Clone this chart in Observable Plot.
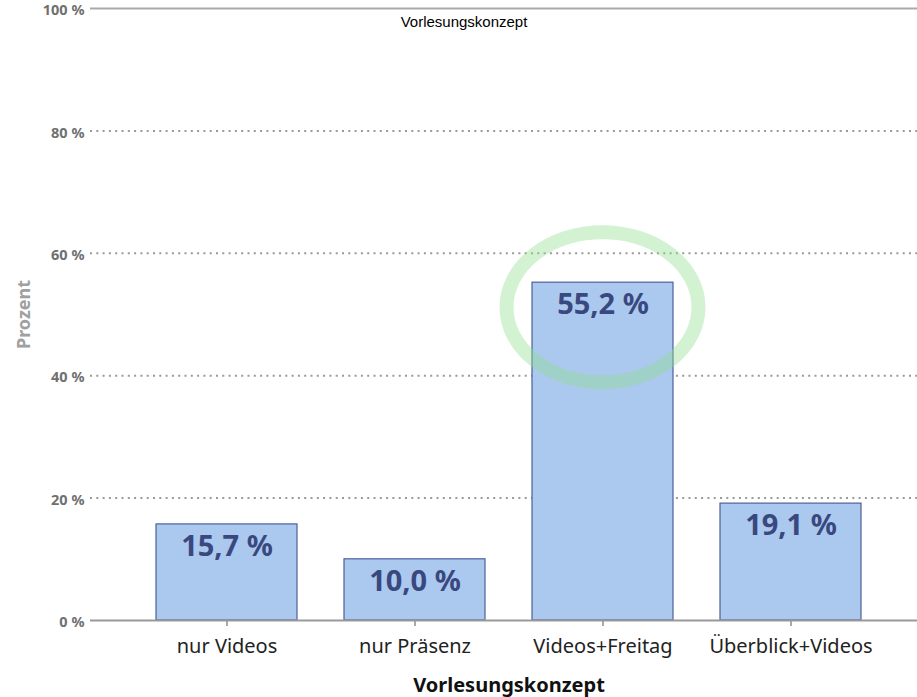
<!DOCTYPE html>
<html>
<head>
<meta charset="utf-8">
<script src="https://cdn.jsdelivr.net/npm/d3@7"></script>
<script src="https://cdn.jsdelivr.net/npm/@observablehq/plot@0.6"></script>
<style>
  html, body { margin: 0; padding: 0; background: #fff; overflow: hidden; }
  #chart svg { display: block; }
</style>
</head>
<body>
<div id="chart"></div>
<script>
const categories = ["nur Videos", "nur Präsenz", "Videos+Freitag", "Überblick+Videos"];
const values = [15.7, 10.0, 55.2, 19.1];
const yTicks = [0, 20, 40, 60, 80, 100];
const title = "Vorlesungskonzept";
const xLabel = "Vorlesungskonzept";
const yLabel = "Prozent";
const highlighted = "Videos+Freitag";

const data = categories.map((c, i) => ({cat: c, value: values[i]}));
const fmt = v => v.toFixed(1).replace(".", ",") + " %";

const plot = Plot.plot({
  width: 917,
  height: 697,
  marginTop: 8,
  marginBottom: 77,
  marginLeft: 90,
  marginRight: 0,
  style: {fontFamily: "'Noto Sans', sans-serif", background: "#fff", overflow: "visible"},
  x: {domain: categories, range: [90, 926], paddingInner: 0.25, paddingOuter: 0.345, align: 0.5},
  y: {domain: [0, 100], ticks: yTicks},
  marks: [
    Plot.ruleY(yTicks.filter(t => t > 0 && t < 100), {stroke: "#999", strokeWidth: 2, strokeDasharray: "2,4.3"}),
    Plot.ruleY([100], {stroke: "#aaa", strokeWidth: 2}),
    Plot.barY(data, {x: "cat", y: "value", fill: "#abc9ee", stroke: "#4f5f9c", strokeWidth: 1.2}),
    Plot.text(data, {x: "cat", y: "value", text: d => fmt(d.value), dy: 22, fill: "#3a4880", fontSize: 29, fontWeight: "bold", lineAnchor: "middle",
      fontFamily: "'Noto Sans', sans-serif"}),
    Plot.ruleX([0], {x: () => 90, stroke: "#999", strokeWidth: 2}),
    Plot.axisY({ticks: yTicks, tickFormat: d => d + " %", tickSize: 0, tickPadding: 6, fontSize: 14.5, fontWeight: "bold", fill: "#707070", dy: 2,
      label: yLabel, labelAnchor: "center", labelOffset: 73, labelArrow: false}),
    Plot.axisX({tickSize: 6, tickPadding: 12, fontSize: 20, fill: "#222", stroke: "#555", label: null}),
    Plot.ruleY([0], {stroke: "#999", strokeWidth: 2}),
    Plot.text([title], {frameAnchor: "top", dx: -40, dy: 14, lineAnchor: "middle", fontSize: 15, fontFamily: "'Liberation Sans', Arial, sans-serif", fill: "#000"}),
    Plot.text([xLabel], {frameAnchor: "bottom", dx: 5, dy: 65, lineAnchor: "middle", fontSize: 20, fontWeight: "bold", fill: "#111"})
  ]
});

// Highlight ellipse around the selected bar's top
const xs = plot.scale("x"), ys = plot.scale("y");
const cx = xs.apply(highlighted) + xs.bandwidth / 2;
const cy = ys.apply(values[categories.indexOf(highlighted)] - 4.1);
d3.select(plot).append("ellipse")
  .attr("cx", cx).attr("cy", cy).attr("rx", 96).attr("ry", 75)
  .attr("fill", "none").attr("stroke", "#8fdf8f").attr("stroke-opacity", 0.4).attr("stroke-width", 14);

// Y axis label styling
d3.select(plot).selectAll("g[aria-label='y-axis label'] text").attr("font-weight", "bold").attr("fill", "#a0a0a0").attr("font-size", 18);

document.getElementById("chart").append(plot);
</script>
</body>
</html>
